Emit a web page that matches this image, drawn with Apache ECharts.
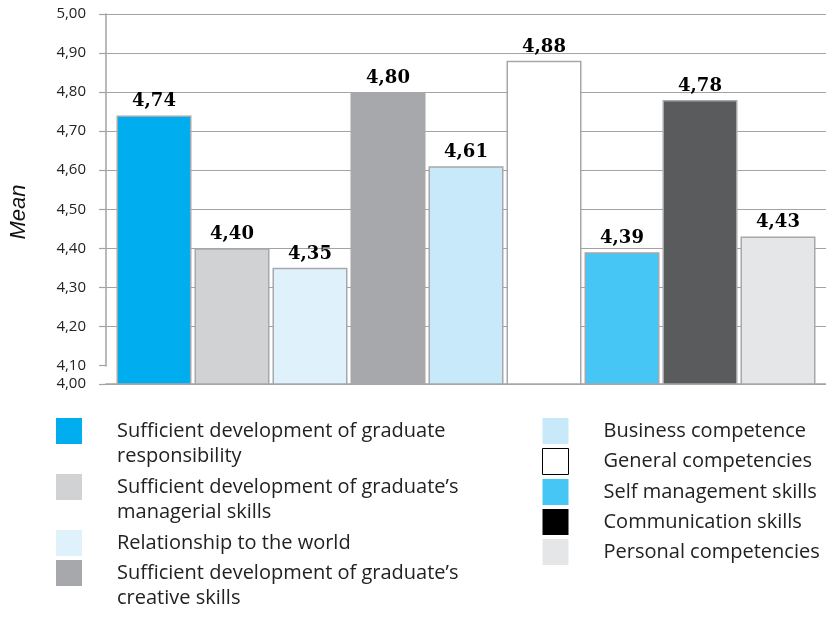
<!DOCTYPE html>
<html>
<head>
<meta charset="utf-8">
<title>Mean scores</title>
<script src="https://cdn.jsdelivr.net/npm/echarts@6/dist/echarts.min.js"></script>
<style>
  html, body { margin: 0; padding: 0; background: #fff; }
  #chart { width: 826px; height: 617px; }
</style>
</head>
<body>
<div id="chart"></div>
<script>
// One category, one bar per competency
const categories = [''];
const skillNames = [
  'Sufficient development of graduate\nresponsibility',
  'Sufficient development of graduate\u2019s\nmanagerial skills',
  'Relationship to the world',
  'Sufficient development of graduate\u2019s\ncreative skills',
  'Business competence',
  'General competencies',
  'Self management skills',
  'Communication skills',
  'Personal competencies'
];
const meanValues = [4.74, 4.40, 4.35, 4.80, 4.61, 4.88, 4.39, 4.78, 4.43];
const barColors = ['#00adef', '#d1d2d4', '#dff2fc', '#a6a8ab', '#c8e9f9', '#ffffff', '#45c6f4', '#5a5b5d', '#e5e6e8'];
const legendColors = ['#00adef', '#d1d2d4', '#dff2fc', '#a6a8ab', '#c8e9f9', '#ffffff', '#45c6f4', '#000000', '#e5e6e8'];
const yMin = 4.0;
const yMax = 5.0;
const yStep = 0.1;

const fmt = v => v.toFixed(2).replace('.', ',');
const lineGray = '#a3a3a3';
const textFont = 'Open Sans';

const series = skillNames.map((name, i) => ({
  name: name,
  type: 'bar',
  data: [meanValues[i]],
  barWidth: 75,
  barGap: '4%',
  itemStyle: { color: barColors[i], borderColor: '#a6a8ab', borderWidth: 1.5 },
  label: {
    show: true,
    position: 'top',
    distance: 5,
    formatter: p => fmt(p.value),
    fontFamily: 'DejaVu Serif',
    fontWeight: 'bold',
    fontSize: 18,
    color: '#000'
  }
}));

function legendEntry(i) {
  const entry = { name: skillNames[i], itemStyle: { color: legendColors[i], borderWidth: 0 } };
  if (i === 5) entry.itemStyle = { color: '#ffffff', borderColor: '#000000', borderWidth: 1 };
  return entry;
}

const legendText = { fontFamily: textFont, fontSize: 20, lineHeight: 25, color: '#222', padding: [0, 0, 0, 30] };
const baseLegend = {
  orient: 'vertical',
  padding: 0,
  itemWidth: 26,
  itemHeight: 26,
  itemGap: 4,
  icon: 'rect',
  selectedMode: false,
  textStyle: legendText
};

// Left column: a leading blank line keeps each swatch beside the first line of a two-line entry
const leftLegends = [
  { idx: 0, top: 393.5, two: true },
  { idx: 1, top: 449.5, two: true },
  { idx: 2, top: 530, two: false },
  { idx: 3, top: 535.5, two: true }
].map(o => Object.assign({}, baseLegend, {
  left: 56,
  top: o.top,
  data: [legendEntry(o.idx)],
  formatter: o.two ? (name => '\n' + name) : (name => name)
}));

const rightLegend = Object.assign({}, baseLegend, {
  left: 542,
  top: 418,
  data: [4, 5, 6, 7, 8].map(legendEntry)
});

const chart = echarts.init(document.getElementById('chart'), null, { renderer: 'canvas' });
chart.setOption({
  animation: false,
  backgroundColor: '#ffffff',
  grid: { left: 104, right: 0, top: 14, bottom: 233, containLabel: false },
  xAxis: {
    type: 'category',
    data: categories,
    axisLine: { show: true, lineStyle: { color: lineGray, width: 1.5 } },
    axisTick: { show: false },
    axisLabel: { show: false }
  },
  yAxis: {
    type: 'value',
    min: yMin,
    max: yMax,
    interval: yStep,
    breaks: [{ start: 4.0, end: 4.1, gap: '5%' }],
    breakArea: { show: false },
    name: 'Mean',
    nameLocation: 'middle',
    nameRotate: 90,
    nameGap: 76,
    nameTextStyle: { fontFamily: 'Liberation Sans', fontStyle: 'italic', fontSize: 22, color: '#111', padding: [0, 26, 0, 0] },
    axisLine: { show: true, lineStyle: { color: lineGray, width: 1.5 } },
    axisTick: { show: true, inside: false, length: 7, lineStyle: { color: lineGray, width: 1.2 } },
    axisLabel: { margin: 20, fontFamily: textFont, fontSize: 15, color: '#222', formatter: v => fmt(v) },
    splitLine: { show: true, lineStyle: { color: lineGray, width: 1.2 } }
  },
  legend: leftLegends.concat([rightLegend]),
  series: series
});
</script>
</body>
</html>
